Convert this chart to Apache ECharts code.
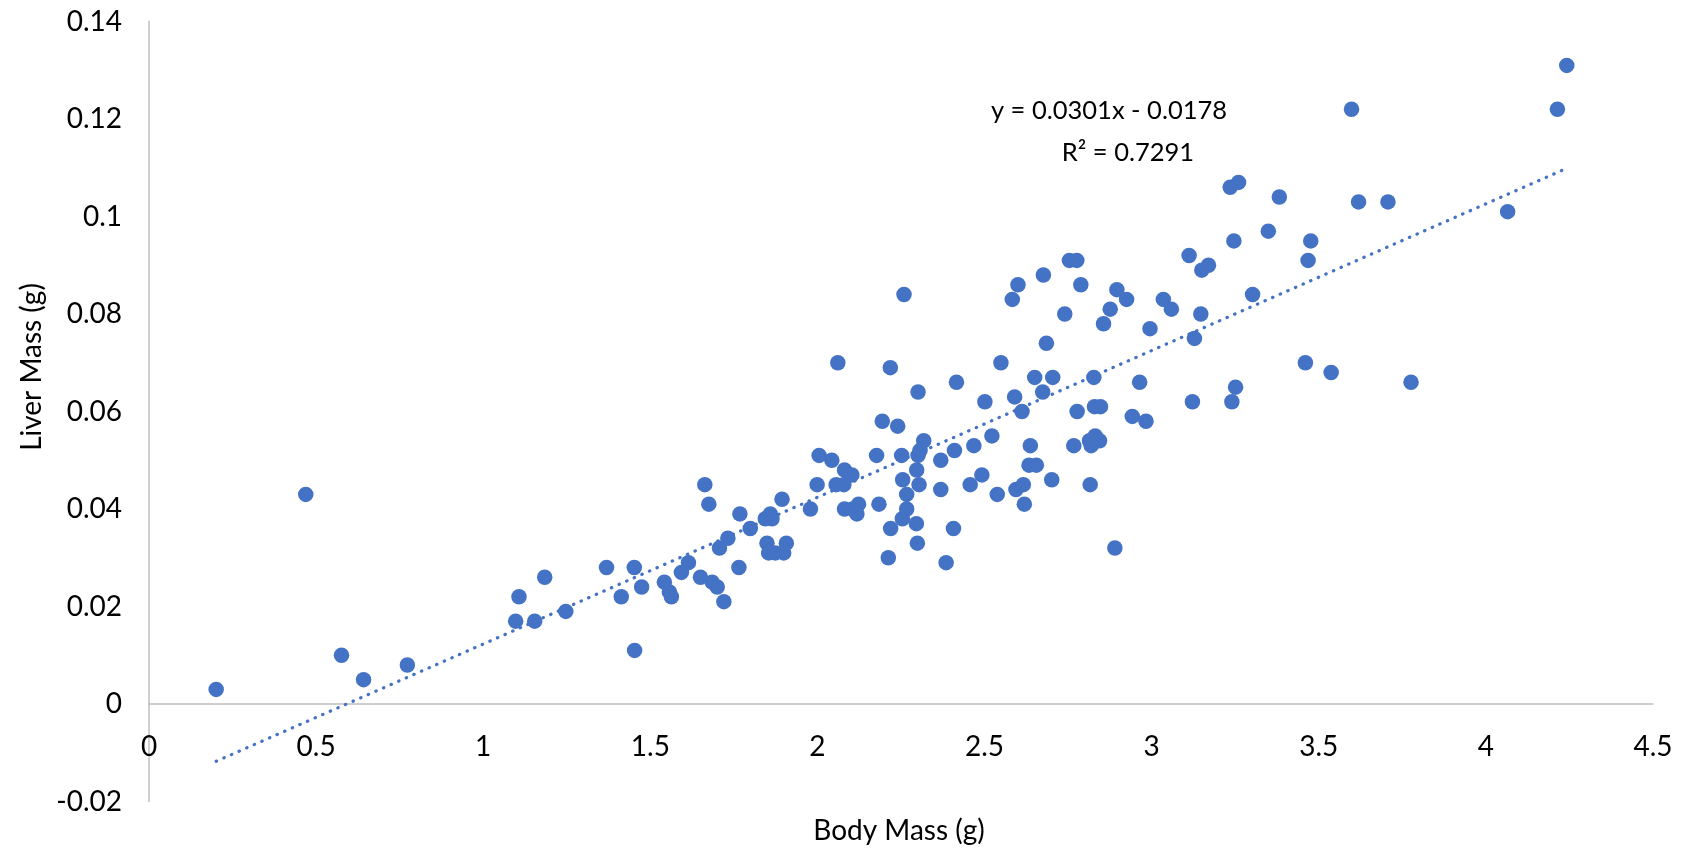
<!DOCTYPE html>
<html>
<head>
<meta charset="utf-8">
<title>Liver Mass vs Body Mass</title>
<script src="https://cdn.jsdelivr.net/npm/echarts@6/dist/echarts.min.js"></script>
<style>
  html, body { margin: 0; padding: 0; background: #fff; }
  #chart { width: 1688px; height: 851px; }
</style>
</head>
<body>
<div id="chart"></div>
<script>
// body mass (g) and liver mass (g), one entry per animal
const bodyMass = [
  0.201, 0.469, 0.576, 0.642, 0.773, 1.097, 1.107, 1.154, 1.184, 1.247,
  1.369, 1.413, 1.452, 1.453, 1.474, 1.542, 1.557, 1.563, 1.593, 1.614,
  1.650, 1.663, 1.675, 1.685, 1.700, 1.707, 1.720, 1.732, 1.765, 1.768,
  1.799, 1.844, 1.849, 1.854, 1.859, 1.864, 1.874, 1.894, 1.899, 1.907,
  1.979, 1.999, 2.005, 2.043, 2.056, 2.061, 2.079, 2.081, 2.081, 2.103,
  2.105, 2.118, 2.123, 2.177, 2.184, 2.194, 2.212, 2.218, 2.219, 2.240,
  2.252, 2.255, 2.254, 2.259, 2.267, 2.267, 2.296, 2.299, 2.297, 2.301,
  2.301, 2.304, 2.307, 2.318, 2.369, 2.369, 2.385, 2.407, 2.410, 2.416,
  2.457, 2.468, 2.492, 2.501, 2.522, 2.538, 2.549, 2.583, 2.590, 2.594,
  2.600, 2.612, 2.616, 2.619, 2.633, 2.637, 2.650, 2.655, 2.674, 2.676,
  2.685, 2.701, 2.704, 2.740, 2.754, 2.767, 2.776, 2.777, 2.788, 2.814,
  2.816, 2.819, 2.827, 2.829, 2.831, 2.844, 2.847, 2.856, 2.876, 2.890,
  2.896, 2.925, 2.942, 2.964, 2.983, 2.995, 3.035, 3.059, 3.112, 3.122,
  3.128, 3.147, 3.150, 3.170, 3.235, 3.240, 3.246, 3.251, 3.260, 3.302,
  3.349, 3.382, 3.460, 3.468, 3.476, 3.537, 3.598, 3.619, 3.707, 3.776,
  4.065, 4.214, 4.242
];
const liverMass = [
  0.003, 0.043, 0.010, 0.005, 0.008, 0.017, 0.022, 0.017, 0.026, 0.019,
  0.028, 0.022, 0.028, 0.011, 0.024, 0.025, 0.023, 0.022, 0.027, 0.029,
  0.026, 0.045, 0.041, 0.025, 0.024, 0.032, 0.021, 0.034, 0.028, 0.039,
  0.036, 0.038, 0.033, 0.031, 0.039, 0.038, 0.031, 0.042, 0.031, 0.033,
  0.040, 0.045, 0.051, 0.050, 0.045, 0.070, 0.045, 0.048, 0.040, 0.047,
  0.040, 0.039, 0.041, 0.051, 0.041, 0.058, 0.030, 0.069, 0.036, 0.057,
  0.051, 0.046, 0.038, 0.084, 0.043, 0.040, 0.037, 0.033, 0.048, 0.064,
  0.051, 0.045, 0.052, 0.054, 0.050, 0.044, 0.029, 0.036, 0.052, 0.066,
  0.045, 0.053, 0.047, 0.062, 0.055, 0.043, 0.070, 0.083, 0.063, 0.044,
  0.086, 0.060, 0.045, 0.041, 0.049, 0.053, 0.067, 0.049, 0.064, 0.088,
  0.074, 0.046, 0.067, 0.080, 0.091, 0.053, 0.091, 0.060, 0.086, 0.054,
  0.045, 0.053, 0.067, 0.061, 0.055, 0.054, 0.061, 0.078, 0.081, 0.032,
  0.085, 0.083, 0.059, 0.066, 0.058, 0.077, 0.083, 0.081, 0.092, 0.062,
  0.075, 0.080, 0.089, 0.090, 0.106, 0.062, 0.095, 0.065, 0.107, 0.084,
  0.097, 0.104, 0.070, 0.091, 0.095, 0.068, 0.122, 0.103, 0.103, 0.066,
  0.101, 0.122, 0.131
];

// linear trendline as printed on the chart
const trendSlope = 0.0301;
const trendIntercept = -0.0178;
const trendR2 = 0.7291;

const xAxisRange = { min: 0, max: 4.5, interval: 0.5 };
const yAxisRange = { min: -0.02, max: 0.14, interval: 0.02 };

const points = bodyMass.map((x, i) => [x, liverMass[i]]);
const xLo = Math.min(...bodyMass);
const xHi = Math.max(...bodyMass);
const trendPoints = [xLo, xHi].map(x => [x, trendSlope * x + trendIntercept]);

const FONT = 'Lato, "Open Sans", sans-serif';
const AXIS_GREY = '#BFBFBF';
const BLUE = '#4472C4';

const chart = echarts.init(document.getElementById('chart'), null, { renderer: 'canvas' });

const grid = { left: 149, right: 35, top: 21.5, bottom: 49.5 };
// the x axis crosses the value axis at zero, like in Excel
const plotHeight = 851 - grid.top - grid.bottom;
const xAxisOffset = -plotHeight * (0 - yAxisRange.min) / (yAxisRange.max - yAxisRange.min);

chart.setOption({
  animation: false,
  backgroundColor: '#ffffff',
  grid: grid,
  xAxis: {
    type: 'value',
    min: xAxisRange.min,
    max: xAxisRange.max,
    interval: xAxisRange.interval,
    position: 'bottom',
    offset: xAxisOffset,
    axisLine: { onZero: false, lineStyle: { color: AXIS_GREY, width: 1.5 } },
    axisTick: { show: false },
    splitLine: { show: false },
    axisLabel: { color: '#000', fontFamily: FONT, fontSize: 28, margin: 29 }
  },
  yAxis: {
    type: 'value',
    min: yAxisRange.min,
    max: yAxisRange.max,
    interval: yAxisRange.interval,
    axisLine: { show: true, onZero: false, lineStyle: { color: AXIS_GREY, width: 1.5 } },
    axisTick: { show: false },
    splitLine: { show: false },
    axisLabel: { color: '#000', fontFamily: FONT, fontSize: 28, margin: 27 }
  },
  series: [
    {
      name: 'Liver Mass',
      type: 'scatter',
      data: points,
      symbol: 'circle',
      symbolSize: 15.5,
      itemStyle: { color: BLUE, opacity: 1 },
      z: 3
    },
    {
      name: 'Trendline',
      type: 'line',
      data: trendPoints,
      showSymbol: false,
      symbol: 'none',
      silent: true,
      lineStyle: { color: BLUE, width: 3.2, type: [0.5, 7.8], cap: 'round' },
      z: 2
    }
  ],
  graphic: [
    {
      type: 'text',
      x: 32, y: 367,
      rotation: Math.PI / 2,
      style: {
        text: 'Liver Mass (g)',
        font: '28px ' + FONT,
        fill: '#000',
        textAlign: 'center',
        textVerticalAlign: 'middle'
      }
    },
    {
      type: 'text',
      x: 899, y: 831,
      style: {
        text: 'Body Mass (g)',
        font: '28px ' + FONT,
        fill: '#000',
        textAlign: 'center',
        textVerticalAlign: 'middle'
      }
    },
    {
      type: 'text',
      x: 1109, y: 111,
      style: {
        text: 'y = ' + trendSlope + 'x - ' + Math.abs(trendIntercept),
        font: '25.5px ' + FONT,
        fill: '#000',
        textAlign: 'center',
        textVerticalAlign: 'middle'
      }
    },
    {
      type: 'text',
      x: 1128, y: 153,
      style: {
        text: 'R² = ' + trendR2,
        font: '25.5px ' + FONT,
        fill: '#000',
        textAlign: 'center',
        textVerticalAlign: 'middle'
      }
    }
  ]
});
</script>
</body>
</html>
